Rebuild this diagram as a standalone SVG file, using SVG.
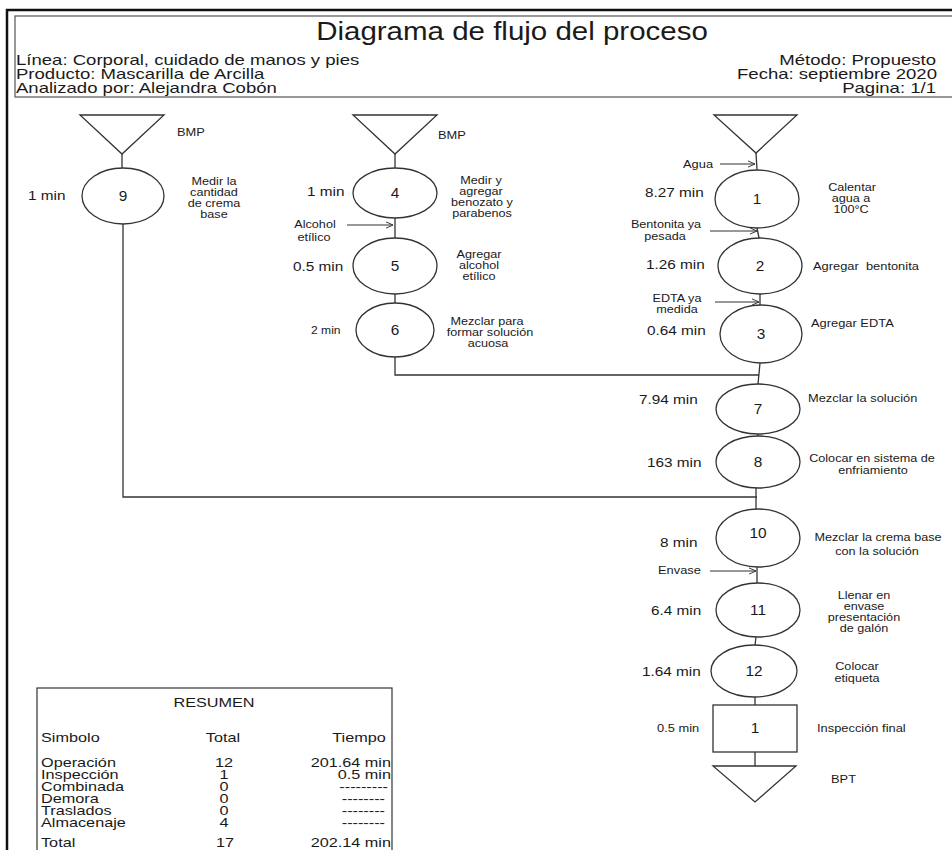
<svg xmlns="http://www.w3.org/2000/svg" width="952" height="850" viewBox="0 0 952 850">
  <defs>
    <marker id="arr" viewBox="0 0 10 10" refX="9" refY="5" markerWidth="8" markerHeight="8" orient="auto" markerUnits="userSpaceOnUse">
      <path d="M0,1 L9,5 L0,9" fill="none" stroke="#333" stroke-width="1.2"/>
    </marker>
    <style>
      text { font-family: "Liberation Sans", Arial, sans-serif; fill: #1a1a1a; }
      .shape { fill: #fff; stroke: #333; stroke-width: 1.3; }
      .ln { fill: none; stroke: #333; stroke-width: 1.3; }
      .in { fill: none; stroke: #333; stroke-width: 1.1; marker-end: url(#arr); }
      .hd { font-size: 14.5px; }
      .num { font-size: 14px; text-anchor: middle; }
      .t { font-size: 13px; }
      .d { font-size: 10.8px; text-anchor: middle; }
      .dl { font-size: 11px; }
      .sm { font-size: 12.5px; }
      .c { text-anchor: middle; }
      .e { text-anchor: end; }
    </style>
  </defs>

  <!-- page frame and header -->
  <path d="M952,10 H7 V850" fill="none" stroke="#111" stroke-width="2.5"/>
  <rect x="15" y="16" width="950" height="81" fill="none" stroke="#555" stroke-width="1.2"/>
  <text transform="translate(512 40) scale(1.18 1)" font-size="25" text-anchor="middle">Diagrama de flujo del proceso</text>
  <text class="hd" transform="translate(16 65) scale(1.28 1)">Línea: Corporal, cuidado de manos y pies</text>
  <text class="hd" transform="translate(16 79) scale(1.28 1)">Producto: Mascarilla de Arcilla</text>
  <text class="hd" transform="translate(16 93) scale(1.28 1)">Analizado por: Alejandra Cobón</text>
  <text class="hd e" transform="translate(936 65) scale(1.28 1)">Método: Propuesto</text>
  <text class="hd e" transform="translate(937 79) scale(1.28 1)">Fecha: septiembre 2020</text>
  <text class="hd e" transform="translate(936 93) scale(1.28 1)">Pagina: 1/1</text>

  <!-- connectors -->
  <g id="connectors">
    <path class="ln" d="M122,154 V168"/>
    <path class="ln" d="M123,224 V497 H757"/>
    <path class="ln" d="M395,154 V168"/>
    <path class="ln" d="M395,218 V238"/>
    <path class="ln" d="M395,294 V303"/>
    <path class="ln" d="M395,357 V375 H759"/>
    <path class="ln" d="M756,153 L757,170"/>
    <path class="ln" d="M757,228 L759,238"/>
    <path class="ln" d="M760,294 V305"/>
    <path class="ln" d="M760,363 L758,384"/>
    <path class="ln" d="M758,434 V436"/>
    <path class="ln" d="M756,488 L756,509"/>
    <path class="ln" d="M757,567 V583"/>
    <path class="ln" d="M756,637 L755,645"/>
    <path class="ln" d="M755,697 V705"/>
    <path class="ln" d="M755,752 V766"/>
    <line class="in" x1="347" y1="225" x2="393" y2="225"/>
    <line class="in" x1="720" y1="164" x2="755" y2="164"/>
    <line class="in" x1="710" y1="231" x2="757" y2="231"/>
    <line class="in" x1="715" y1="302" x2="759" y2="302"/>
    <line class="in" x1="710" y1="571" x2="756" y2="571"/>
  </g>

  <!-- column: crema base -->
  <g id="bmp-a">
    <polygon class="shape" points="80,115 164,115 122,154"/>
    <text class="dl" transform="translate(177 136) scale(1.17 1)">BMP</text>
  </g>
  <g id="op-9">
    <ellipse class="shape" cx="123" cy="196" rx="41" ry="28"/>
    <text class="num" transform="translate(123 201) scale(1.1 1)">9</text>
    <text class="t" transform="translate(28 200) scale(1.18 1)">1 min</text>
    <text class="d" transform="translate(214 185) scale(1.17 1)">Medir la</text>
    <text class="d" transform="translate(214 196) scale(1.17 1)">cantidad</text>
    <text class="d" transform="translate(214 207) scale(1.17 1)">de crema</text>
    <text class="d" transform="translate(214 218) scale(1.17 1)">base</text>
  </g>

  <!-- column: solución acuosa -->
  <g id="bmp-b">
    <polygon class="shape" points="353,115 437,115 395,154"/>
    <text class="dl" transform="translate(438 139) scale(1.17 1)">BMP</text>
  </g>
  <g id="op-4">
    <ellipse class="shape" cx="395" cy="193" rx="42" ry="25"/>
    <text class="num" transform="translate(395 198) scale(1.1 1)">4</text>
    <text class="t" transform="translate(307 196) scale(1.18 1)">1 min</text>
    <text class="d" transform="translate(481 184) scale(1.17 1)">Medir y</text>
    <text class="d" transform="translate(481 195) scale(1.17 1)">agregar</text>
    <text class="d" transform="translate(482 206) scale(1.17 1)">benozato y</text>
    <text class="d" transform="translate(482 217) scale(1.17 1)">parabenos</text>
  </g>
  <g id="in-alcohol">
    <text class="d" transform="translate(315 228) scale(1.17 1)">Alcohol</text>
    <text class="d" transform="translate(314 241) scale(1.17 1)">etílico</text>
  </g>
  <g id="op-5">
    <ellipse class="shape" cx="395" cy="266" rx="42" ry="28"/>
    <text class="num" transform="translate(395 271) scale(1.1 1)">5</text>
    <text class="t" transform="translate(293 271) scale(1.18 1)">0.5 min</text>
    <text class="d" transform="translate(479 258) scale(1.17 1)">Agregar</text>
    <text class="d" transform="translate(479 269) scale(1.17 1)">alcohol</text>
    <text class="d" transform="translate(479 280) scale(1.17 1)">etílico</text>
  </g>
  <g id="op-6">
    <ellipse class="shape" cx="395" cy="330" rx="39" ry="27"/>
    <text class="num" transform="translate(395 335) scale(1.1 1)">6</text>
    <text transform="translate(311 334) scale(1.1 1)" font-size="11">2 min</text>
    <text class="d" transform="translate(487 325) scale(1.17 1)">Mezclar para</text>
    <text class="d" transform="translate(490 336) scale(1.17 1)">formar solución</text>
    <text class="d" transform="translate(488 347) scale(1.17 1)">acuosa</text>
  </g>

  <!-- column: agua y mezcla principal -->
  <g id="bmp-c">
    <polygon class="shape" points="714,115 797,115 756,153"/>
  </g>
  <g id="in-agua">
    <text class="dl" transform="translate(683 168) scale(1.17 1)">Agua</text>
  </g>
  <g id="op-1">
    <ellipse class="shape" cx="757" cy="199" rx="42" ry="29"/>
    <text class="num" transform="translate(757 204) scale(1.1 1)">1</text>
    <text class="t" transform="translate(645 197) scale(1.18 1)">8.27 min</text>
    <text class="d" transform="translate(852 191) scale(1.17 1)">Calentar</text>
    <text class="d" transform="translate(851 202) scale(1.17 1)">agua a</text>
    <text class="d" transform="translate(851 213) scale(1.17 1)">100°C</text>
  </g>
  <g id="in-bentonita">
    <text class="d" transform="translate(666 228) scale(1.17 1)">Bentonita ya</text>
    <text class="d" transform="translate(665 240) scale(1.17 1)">pesada</text>
  </g>
  <g id="op-2">
    <ellipse class="shape" cx="760" cy="266" rx="42" ry="28"/>
    <text class="num" transform="translate(760 271) scale(1.1 1)">2</text>
    <text class="t" transform="translate(646 269) scale(1.18 1)">1.26 min</text>
    <text class="dl" xml:space="preserve" transform="translate(813 270) scale(1.17 1)">Agregar  bentonita</text>
  </g>
  <g id="in-edta">
    <text class="d" transform="translate(677 302) scale(1.17 1)">EDTA ya</text>
    <text class="d" transform="translate(677 313) scale(1.17 1)">medida</text>
  </g>
  <g id="op-3">
    <ellipse class="shape" cx="761" cy="334" rx="41" ry="29"/>
    <text class="num" transform="translate(761 339) scale(1.1 1)">3</text>
    <text class="t" transform="translate(647 335) scale(1.18 1)">0.64 min</text>
    <text class="dl" transform="translate(811 327) scale(1.17 1)">Agregar EDTA</text>
  </g>
  <g id="op-7">
    <ellipse class="shape" cx="758" cy="409" rx="42" ry="25"/>
    <text class="num" transform="translate(758 414) scale(1.1 1)">7</text>
    <text class="t" transform="translate(639 404) scale(1.18 1)">7.94 min</text>
    <text class="dl" transform="translate(808 402) scale(1.17 1)">Mezclar la solución</text>
  </g>
  <g id="op-8">
    <ellipse class="shape" cx="758" cy="462" rx="42" ry="26"/>
    <text class="num" transform="translate(758 467) scale(1.1 1)">8</text>
    <text class="t" transform="translate(647 467) scale(1.18 1)">163 min</text>
    <text class="d" transform="translate(872 462) scale(1.17 1)">Colocar en sistema de</text>
    <text class="d" transform="translate(873 474) scale(1.17 1)">enfriamiento</text>
  </g>
  <g id="op-10">
    <ellipse class="shape" cx="758" cy="538" rx="42" ry="29"/>
    <text class="num" transform="translate(758 538) scale(1.1 1)">10</text>
    <text class="t" transform="translate(660 547) scale(1.18 1)">8 min</text>
    <text class="d" transform="translate(878 541) scale(1.17 1)">Mezclar la crema base</text>
    <text class="d" transform="translate(877 555) scale(1.17 1)">con la solución</text>
  </g>
  <g id="in-envase">
    <text class="dl" transform="translate(658 574) scale(1.17 1)">Envase</text>
  </g>
  <g id="op-11">
    <ellipse class="shape" cx="758" cy="610" rx="42" ry="27"/>
    <text class="num" transform="translate(758 615) scale(1.1 1)">11</text>
    <text class="t" transform="translate(651 615) scale(1.18 1)">6.4 min</text>
    <text class="d" transform="translate(864 599) scale(1.17 1)">Llenar en</text>
    <text class="d" transform="translate(864 610) scale(1.17 1)">envase</text>
    <text class="d" transform="translate(864 621) scale(1.17 1)">presentación</text>
    <text class="d" transform="translate(864 632) scale(1.17 1)">de galón</text>
  </g>
  <g id="op-12">
    <ellipse class="shape" cx="754" cy="671" rx="43" ry="26"/>
    <text class="num" transform="translate(754 676) scale(1.1 1)">12</text>
    <text class="t" transform="translate(642 676) scale(1.18 1)">1.64 min</text>
    <text class="d" transform="translate(857 670) scale(1.17 1)">Colocar</text>
    <text class="d" transform="translate(857 682) scale(1.17 1)">etiqueta</text>
  </g>
  <g id="insp-1">
    <rect class="shape" x="713" y="705" width="84" height="47"/>
    <text class="num" transform="translate(755 733) scale(1.1 1)">1</text>
    <text class="dl" transform="translate(657 732) scale(1.17 1)">0.5 min</text>
    <text class="dl" transform="translate(817 732) scale(1.17 1)">Inspección final</text>
  </g>
  <g id="bpt">
    <polygon class="shape" points="713,766 796,766 755,802"/>
    <text class="dl" transform="translate(831 783) scale(1.17 1)">BPT</text>
  </g>

  <!-- summary table -->
  <g id="resumen">
    <rect x="37" y="688" width="355" height="170" fill="none" stroke="#333" stroke-width="1.2"/>
    <text class="sm c" transform="translate(214 707) scale(1.3 1)">RESUMEN</text>
    <text class="sm" transform="translate(41 742) scale(1.3 1)">Simbolo</text>
    <text class="sm c" transform="translate(223 742) scale(1.3 1)">Total</text>
    <text class="sm c" transform="translate(359 742) scale(1.3 1)">Tiempo</text>
    <text class="sm" transform="translate(41 767) scale(1.3 1)">Operación</text>
    <text class="sm" transform="translate(41 779) scale(1.3 1)">Inspección</text>
    <text class="sm" transform="translate(41 791) scale(1.3 1)">Combinada</text>
    <text class="sm" transform="translate(41 803) scale(1.3 1)">Demora</text>
    <text class="sm" transform="translate(41 815) scale(1.3 1)">Traslados</text>
    <text class="sm" transform="translate(41 827) scale(1.3 1)">Almacenaje</text>
    <text class="sm" transform="translate(41 847) scale(1.3 1)">Total</text>
    <text class="sm c" transform="translate(224 767) scale(1.3 1)">12</text>
    <text class="sm c" transform="translate(224 779) scale(1.3 1)">1</text>
    <text class="sm c" transform="translate(224 791) scale(1.3 1)">0</text>
    <text class="sm c" transform="translate(224 803) scale(1.3 1)">0</text>
    <text class="sm c" transform="translate(224 815) scale(1.3 1)">0</text>
    <text class="sm c" transform="translate(224 827) scale(1.3 1)">4</text>
    <text class="sm c" transform="translate(225 847) scale(1.3 1)">17</text>
    <text class="sm e" transform="translate(391 767) scale(1.3 1)">201.64 min</text>
    <text class="sm e" transform="translate(391 779) scale(1.3 1)">0.5 min</text>
    <text class="sm e" transform="translate(388 791) scale(1.3 1)">---------</text>
    <text class="sm e" transform="translate(385 803) scale(1.3 1)">--------</text>
    <text class="sm e" transform="translate(385 815) scale(1.3 1)">--------</text>
    <text class="sm e" transform="translate(385 827) scale(1.3 1)">--------</text>
    <text class="sm e" transform="translate(391 847) scale(1.3 1)">202.14 min</text>
  </g>
</svg>
